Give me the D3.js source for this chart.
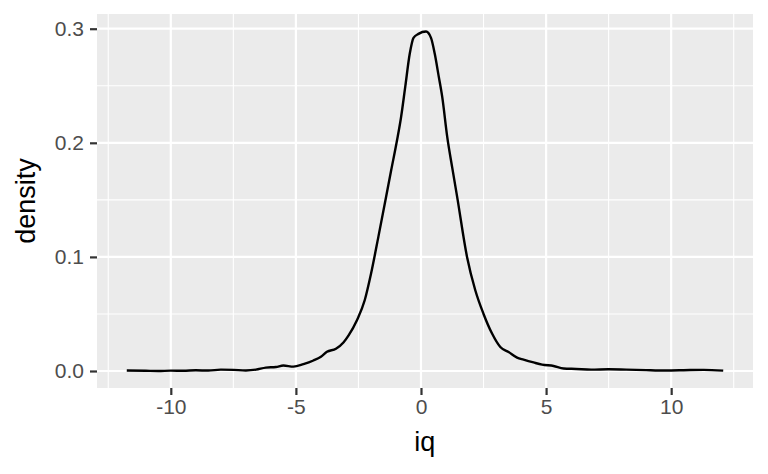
<!DOCTYPE html>
<html>
<head>
<meta charset="utf-8">
<script src="https://cdn.jsdelivr.net/npm/d3@7"></script>
<style>
  body { margin: 0; background: #fff; }
  svg { display: block; font-family: "Liberation Sans", Arial, sans-serif; }
</style>
</head>
<body>
<script>
// DATA
// =============================================================================

const iq = [-11.76, -11.0, -10.5, -10.0, -9.5, -9.0, -8.5, -8.0, -7.5, -7.0,
  -6.6, -6.2, -5.8, -5.5, -5.1, -4.7, -4.3, -4.0, -3.76, -3.4,
  -3.1, -2.9, -2.56, -2.25, -2.0, -1.7, -1.4, -1.2, -0.96, -0.8,
  -0.63, -0.45, -0.3, -0.1, 0.2, 0.4, 0.55, 0.71, 0.85, 1.05,
  1.25, 1.45, 1.84, 2.17, 2.5, 2.84, 3.17, 3.5, 3.84, 4.1,
  4.5, 4.84, 5.3, 5.7, 6.2, 6.8, 7.5, 8.2, 9.0, 9.5,
  10.0, 10.5, 11.3, 12.08];

const density = [0.0005, 0.0002, 0.0000, 0.0003, 0.0002, 0.0006, 0.0004, 0.0012, 0.0010, 0.0005,
  0.0012, 0.0030, 0.0035, 0.0048, 0.0038, 0.0060, 0.0092, 0.0125, 0.0168, 0.0195,
  0.0250, 0.0310, 0.0445, 0.0620, 0.0850, 0.1180, 0.1520, 0.1750, 0.2020, 0.2220,
  0.2490, 0.2780, 0.2920, 0.2955, 0.2975, 0.2920, 0.2780, 0.2580, 0.2400, 0.2050,
  0.1780, 0.1520, 0.1000, 0.0708, 0.0500, 0.0328, 0.0210, 0.0167, 0.0118, 0.0100,
  0.0075, 0.0056, 0.0044, 0.0022, 0.0018, 0.0012, 0.0015, 0.0012, 0.0008, 0.0005,
  0.0005, 0.0007, 0.0010, 0.0003];

const xTicks = [-10, -5, 0, 5, 10];
const xMinor = [-12.5, -7.5, -2.5, 2.5, 7.5, 12.5];
const yTicks = [0, 0.1, 0.2, 0.3];
const yMinor = [0.05, 0.15, 0.25];

// CONFIG VARS
// =============================================================================

const width = 768;
const height = 474;
const panel = { left: 97, top: 14, right: 753, bottom: 388 };

// SCALES
// =============================================================================

const xScale = d3.scaleLinear()
    .domain([-12.95, 13.27])
    .range([panel.left, panel.right]);

const yScale = d3.scaleLinear()
    .domain([-0.0149, 0.3129])
    .range([panel.bottom, panel.top]);

// INITIALIZE THE SVG
// =============================================================================

const svg = d3.select("body")
    .append("svg")
    .attr("width", width)
    .attr("height", height);

svg.append("rect")
    .attr("x", panel.left)
    .attr("y", panel.top)
    .attr("width", panel.right - panel.left)
    .attr("height", panel.bottom - panel.top)
    .attr("fill", "#EBEBEB");

// grid lines, minor first
svg.append("g").selectAll("line")
    .data(xMinor)
    .join("line")
    .attr("x1", d => xScale(d)).attr("x2", d => xScale(d))
    .attr("y1", panel.top).attr("y2", panel.bottom)
    .attr("stroke", "#fff").attr("stroke-width", 1.1);

svg.append("g").selectAll("line")
    .data(yMinor)
    .join("line")
    .attr("y1", d => yScale(d)).attr("y2", d => yScale(d))
    .attr("x1", panel.left).attr("x2", panel.right)
    .attr("stroke", "#fff").attr("stroke-width", 1.1);

svg.append("g").selectAll("line")
    .data(xTicks)
    .join("line")
    .attr("x1", d => xScale(d)).attr("x2", d => xScale(d))
    .attr("y1", panel.top).attr("y2", panel.bottom)
    .attr("stroke", "#fff").attr("stroke-width", 2.2);

svg.append("g").selectAll("line")
    .data(yTicks)
    .join("line")
    .attr("y1", d => yScale(d)).attr("y2", d => yScale(d))
    .attr("x1", panel.left).attr("x2", panel.right)
    .attr("stroke", "#fff").attr("stroke-width", 2.2);

// DENSITY LINE
// =============================================================================

const points = iq.map((x, i) => [x, density[i]]);

const line = d3.line()
    .x(d => xScale(d[0]))
    .y(d => yScale(d[1]))
    .curve(d3.curveMonotoneX);

svg.append("path")
    .datum(points)
    .attr("d", line)
    .attr("fill", "none")
    .attr("stroke", "#000")
    .attr("stroke-width", 2.4)
    .attr("stroke-linejoin", "round");

// AXES
// =============================================================================

const xAxis = svg.append("g")
    .attr("transform", `translate(0,${panel.bottom})`)
    .call(d3.axisBottom(xScale).tickValues(xTicks).tickSize(7).tickPadding(4)
        .tickFormat(d => d < 0 ? "-" + Math.abs(d) : d));

const yAxis = svg.append("g")
    .attr("transform", `translate(${panel.left},0)`)
    .call(d3.axisLeft(yScale).tickValues(yTicks).tickSize(7).tickPadding(6)
        .tickFormat(d3.format(".1f")));

[xAxis, yAxis].forEach(g => {
    g.select(".domain").remove();
    g.selectAll(".tick line").attr("stroke", "#333333").attr("stroke-width", 2.2);
    g.selectAll(".tick text")
        .attr("fill", "#4D4D4D")
        .style("font-size", "21px")
        .style("font-family", "'Liberation Sans', Arial, sans-serif");
});

// axis titles
svg.append("text")
    .attr("x", xScale(0.15))
    .attr("y", 451)
    .attr("text-anchor", "middle")
    .style("font-size", "27px")
    .text("iq");

svg.append("text")
    .attr("transform", `translate(35,${(panel.top + panel.bottom) / 2}) rotate(-90)`)
    .attr("text-anchor", "middle")
    .style("font-size", "27px")
    .text("density");
</script>
</body>
</html>
